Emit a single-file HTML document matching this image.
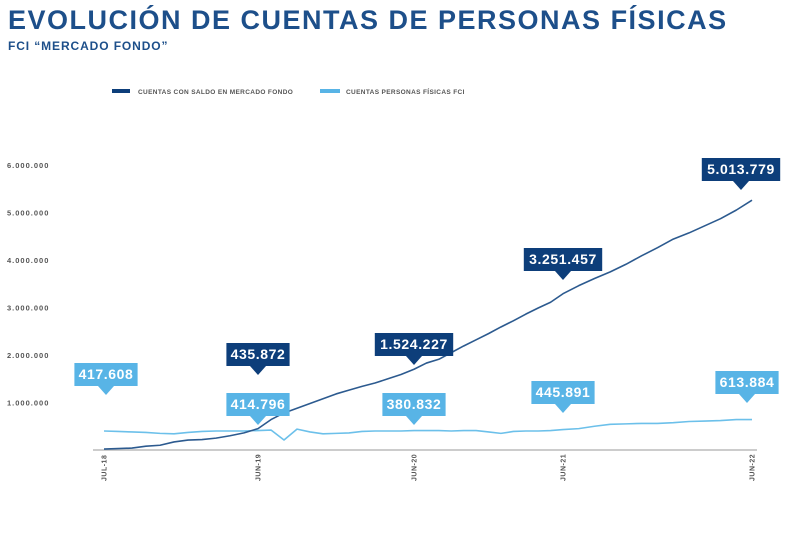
<!DOCTYPE html>
<html><head><meta charset="utf-8"><style>
body{margin:0;background:#fff;width:800px;height:543px;overflow:hidden;font-family:"Liberation Sans",sans-serif}
.t{position:absolute;white-space:nowrap}
</style></head><body>
<div class="t" style="left:8px;top:5px;font-size:27px;font-weight:bold;color:#1d4f8a;letter-spacing:1.5px">EVOLUCIÓN DE CUENTAS DE PERSONAS FÍSICAS</div>
<div class="t" style="left:8px;top:39px;font-size:12px;font-weight:bold;color:#1d4f8a;letter-spacing:0.9px">FCI “MERCADO FONDO”</div>
<svg width="800" height="543" style="position:absolute;left:0;top:0" id="c">
<g font-family="Liberation Sans" font-size="6.5" font-weight="bold" fill="#555" letter-spacing="0.35">
<rect x="112" y="89" width="18" height="4" fill="#0d3e7a"/>
<text x="138" y="94">CUENTAS CON SALDO EN MERCADO FONDO</text>
<rect x="320" y="89" width="20" height="4" fill="#58b4e6"/>
<text x="346" y="94">CUENTAS PERSONAS FÍSICAS FCI</text>
</g>
</svg>
<script>
const yTicks=[1,2,3,4,5,6];
const yTickLabels=["1.000.000","2.000.000","3.000.000","4.000.000","5.000.000","6.000.000"];
const xTickIdx=[0,11,23,35,47];
const xTickLabels=["JUL-18","JUN-19","JUN-20","JUN-21","JUN-22"];
const saldo=[0.02,0.03,0.04,0.08,0.10,0.17,0.21,0.22,0.25,0.30,0.36,0.45,0.64,0.78,0.88,0.98,1.08,1.18,1.26,1.34,1.41,1.50,1.59,1.70,1.83,1.91,2.05,2.19,2.32,2.45,2.59,2.72,2.86,2.99,3.11,3.29,3.46,3.61,3.75,3.91,4.09,4.26,4.44,4.57,4.72,4.87,5.05,5.26];
const fci=[0.40,0.39,0.38,0.37,0.35,0.34,0.37,0.39,0.40,0.40,0.40,0.41,0.42,0.21,0.44,0.38,0.34,0.35,0.36,0.39,0.40,0.40,0.40,0.41,0.41,0.41,0.40,0.41,0.41,0.38,0.35,0.39,0.40,0.40,0.41,0.43,0.45,0.50,0.54,0.55,0.56,0.56,0.575,0.60,0.61,0.62,0.64,0.64];
const calloutText=["417.608","435.872","414.796","1.524.227","380.832","3.251.457","445.891","5.013.779","613.884"];
const calloutIdx=[0,11,11,23,23,35,35,47,47];
const calloutSeries=["fci","saldo","fci","saldo","fci","saldo","fci","saldo","fci"];
const NS="http://www.w3.org/2000/svg";
const svg=document.getElementById('c');
const anchorsI=[0,11,23,35,47], anchorsX=[104,258,414,563,752];
function X(i){for(let k=0;k<anchorsI.length-1;k++){if(i<=anchorsI[k+1]){const a=anchorsI[k],b=anchorsI[k+1];return anchorsX[k]+(i-a)/(b-a)*(anchorsX[k+1]-anchorsX[k]);}}return anchorsX[anchorsX.length-1];}
const Y=v=>450-v*47.5;
function mk(t,a){const e=document.createElementNS(NS,t);for(const k in a)e.setAttribute(k,a[k]);svg.appendChild(e);return e;}
yTicks.forEach((v,k)=>{const t=mk('text',{x:7,y:Y(v)+3,'font-size':7.5,'font-weight':'bold',fill:'#555','font-family':'Liberation Sans','letter-spacing':1});t.textContent=yTickLabels[k];

});
const ax=mk('line',{x1:93,x2:757,y1:450,y2:450,stroke:'#bbb','stroke-width':1.5});


xTickIdx.forEach((i,k)=>{const x=X(i);const t=mk('text',{x:0,y:0,transform:`translate(${x+2.5},${481}) rotate(-90)`,'font-size':7,'font-weight':'bold',fill:'#555','font-family':'Liberation Sans','letter-spacing':0.5});t.textContent=xTickLabels[k];

});
function line(arr,col,w){return mk('polyline',{points:arr.map((v,i)=>X(i)+','+Y(v)).join(' '),fill:'none',stroke:col,'stroke-width':w,'stroke-linejoin':'round'});}
const l2=line(fci,'#6cc0ea',1.6);


const l1=line(saldo,'#2c5a8f',1.6);


const boxY={fci:[363,393,393,381,371],saldo:[343,333,248,158]};
const cnt={fci:0,saldo:0};
calloutText.forEach((txt,k)=>{const s=calloutSeries[k];const i=calloutIdx[k];
const cx=X(i)+(i===47?(s==='fci'?-5:-11):(i===0?2:0));
const top=boxY[s][cnt[s]++];const w=txt.length*7.6+10;const h=23;const col=s==='fci'?'#58b4e6':'#0d3e7a';
const g=document.createElementNS(NS,'g');svg.appendChild(g);


const r=document.createElementNS(NS,'rect');r.setAttribute('x',cx-w/2);r.setAttribute('y',top);r.setAttribute('width',w);r.setAttribute('height',h);r.setAttribute('fill',col);g.appendChild(r);
const p=document.createElementNS(NS,'polygon');p.setAttribute('points',`${cx-8},${top+h} ${cx+8},${top+h} ${cx},${top+h+9}`);p.setAttribute('fill',col);g.appendChild(p);
const t=document.createElementNS(NS,'text');t.setAttribute('x',cx);t.setAttribute('y',top+16);t.setAttribute('text-anchor','middle');t.setAttribute('font-size',14);t.setAttribute('font-weight','bold');t.setAttribute('fill','#fff');t.setAttribute('font-family','Liberation Sans');t.setAttribute('letter-spacing','0.6');t.textContent=txt;g.appendChild(t);});
</script>
</body></html>
